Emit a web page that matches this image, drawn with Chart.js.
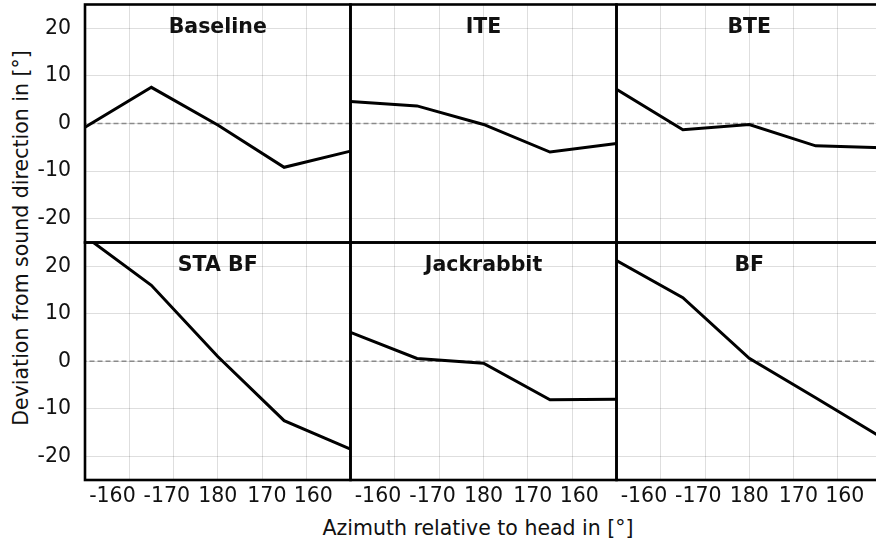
<!DOCTYPE html>
<html>
<head>
<meta charset="utf-8">
<script src="https://cdn.jsdelivr.net/npm/chart.js@4/dist/chart.umd.min.js"></script>
<style>
html,body{margin:0;padding:0;background:#fff;overflow:hidden;width:876px;height:547px;}
#wrap{position:relative;width:900px;height:547px;}
canvas{position:absolute;}
#ytitle{position:absolute;left:21px;top:238px;transform:translate(-50%,-50%) rotate(-90deg);white-space:nowrap;font:20.5px "DejaVu Sans";color:#111;}
#xtitle{position:absolute;left:478px;top:528px;transform:translate(-50%,-50%);white-space:nowrap;font:20.5px "DejaVu Sans";color:#111;}
</style>
</head>
<body>
<div id="wrap"><div id="ytitle">Deviation from sound direction in [°]</div><div id="xtitle">Azimuth relative to head in [°]</div></div>
<script>
// Azimuth positions (unwrapped degrees: 210 = -150, 195 = -165, 180, 165, 150)
const azimuth = [210, 195, 180, 165, 150];
const xGridValues = [200, 190, 180, 170, 160];
const xTickLabels = ['-160', '-170', '180', '170', '160'];
// where the reference prints those labels along the axis
const xLabelAt = [203.8, 191.5, 180, 168.9, 158.4];
const yTickValues = [-20, -10, 0, 10, 20];

const baseline   = [-0.8, 7.6, -0.3, -9.2, -5.8];
const ite        = [4.6, 3.7, -0.2, -6.0, -4.2];
const bte        = [7.2, -1.3, -0.2, -4.7, -5.1];
const staBF      = [26.3, 16.0, 1.0, -12.5, -18.5];
const jackrabbit = [6.1, 0.6, -0.4, -8.1, -8.0];
const bf         = [21.2, 13.4, 0.6, -7.7, -16.1];

const panelTitles = ['Baseline', 'ITE', 'BTE', 'STA BF', 'Jackrabbit', 'BF'];
const panelSeries = [baseline, ite, bte, staBF, jackrabbit, bf];

const FONT = '"DejaVu Sans"';
const colX = [85, 350.5, 616.5, 882];
const rowY = [4.5, 242.5, 480];

const panelPlugin = {
  id: 'panelDeco',
  beforeDatasetsDraw(chart, args, opts) {
    const {ctx, chartArea: a} = chart;
    ctx.save();
    ctx.font = 'bold 20.5px ' + FONT;
    ctx.fillStyle = '#111';
    ctx.textAlign = 'center';
    ctx.textBaseline = 'middle';
    ctx.fillText(opts.text, (a.left + a.right) / 2, a.top + 23.5);
    ctx.restore();
  },
  afterDraw(chart) {
    const {ctx, chartArea: a} = chart;
    ctx.save();
    ctx.lineWidth = 2.6;
    ctx.strokeStyle = '#000';
    ctx.strokeRect(a.left, a.top, a.right - a.left, a.bottom - a.top);
    ctx.restore();
  }
};

const wrap = document.getElementById('wrap');
panelSeries.forEach((series, i) => {
  const r = Math.floor(i / 3), c = i % 3;
  const L = c === 0 ? 0 : Math.floor(colX[c]) - 4;
  const R = Math.ceil(colX[c + 1]) + 4;
  const T = Math.max(0, Math.floor(rowY[r]) - 4);
  const B = r === 1 ? 547 : Math.ceil(rowY[r + 1]) + 4;
  const cv = document.createElement('canvas');
  cv.width = R - L; cv.height = B - T;
  cv.style.left = L + 'px'; cv.style.top = T + 'px';
  cv.style.width = (R - L) + 'px'; cv.style.height = (B - T) + 'px';
  wrap.appendChild(cv);
  const yW = c === 0 ? colX[0] - L : 0;
  const xH = r === 1 ? B - rowY[2] : 0;
  new Chart(cv, {
    type: 'line',
    data: {
      datasets: [
        {
          data: azimuth.map((x, k) => ({x, y: series[k]})),
          borderColor: '#000', borderWidth: 3, pointRadius: 0, tension: 0, order: 0
        },
        {
          data: [{x: 150, y: 0}, {x: 210, y: 0}],
          borderColor: '#8a8a8a', borderWidth: 1.3, borderDash: [5, 3], pointRadius: 0, order: 1
        }
      ]
    },
    options: {
      responsive: false,
      animation: false,
      devicePixelRatio: 1,
      events: [],
      layout: {
        padding: {
          left: c === 0 ? 0 : colX[c] - L,
          right: R - colX[c + 1],
          top: rowY[r] - T,
          bottom: r === 1 ? 0 : B - rowY[r + 1]
        }
      },
      plugins: {
        legend: {display: false},
        tooltip: {enabled: false},
        panelDeco: {text: panelTitles[i]}
      },
      scales: {
        x: {
          type: 'linear', min: 150, max: 210, reverse: true,
          afterBuildTicks: s => { s.ticks = xGridValues.map(v => ({value: v})); },
          afterFit: s => { s.height = 0; s.paddingLeft = 0; s.paddingRight = 0; },
          grid: {color: 'rgba(0,0,0,0.13)', lineWidth: 1, drawTicks: false},
          border: {display: false},
          ticks: {display: false}
        },
        xl: {
          type: 'linear', position: 'bottom', display: r === 1,
          min: 150, max: 210, reverse: true,
          afterBuildTicks: s => { s.ticks = xLabelAt.map(v => ({value: v})); },
          afterFit: s => { s.height = xH; s.paddingLeft = 0; s.paddingRight = 0; },
          grid: {display: false, drawTicks: false},
          border: {display: false},
          ticks: {
            padding: 4,
            maxRotation: 0,
            autoSkip: false,
            color: '#111',
            font: {family: FONT, size: 20.5},
            callback: (v, idx) => xTickLabels[idx]
          }
        },
        y: {
          type: 'linear', min: -25, max: 25,
          afterBuildTicks: s => { s.ticks = yTickValues.map(v => ({value: v})); },
          afterFit: s => { s.width = yW; s.paddingTop = 0; s.paddingBottom = 0; },
          grid: {color: 'rgba(0,0,0,0.13)', lineWidth: 1, drawTicks: false},
          border: {display: false},
          ticks: {
            display: c === 0,
            padding: 14,
            color: '#111',
            font: {family: FONT, size: 20.5}
          }
        }
      }
    },
    plugins: [panelPlugin]
  });
});
</script>
</body>
</html>
